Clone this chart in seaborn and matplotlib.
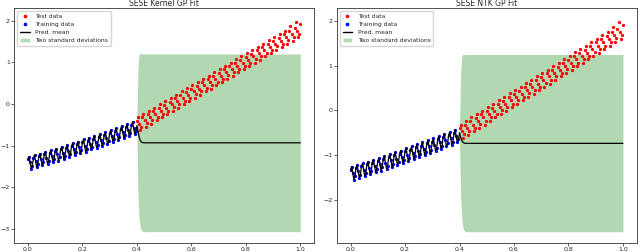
import numpy as np
import matplotlib
matplotlib.use("Agg")
import matplotlib.pyplot as plt
import seaborn as sns
from matplotlib.lines import Line2D
from matplotlib.patches import Patch

# Training data (x from 0 to 0.396, step 0.004)
train_x = np.linspace(0.0, 0.396, 100)
train_y = [
    -1.33, -1.26, -1.40, -1.55, -1.48,  -1.29, -1.22, -1.37, -1.52, -1.44,
    -1.25, -1.19, -1.33, -1.47, -1.40,  -1.21, -1.15, -1.30, -1.43, -1.36,
    -1.17, -1.11, -1.25, -1.39, -1.32,  -1.13, -1.07, -1.21, -1.36, -1.28,
    -1.09, -1.02, -1.17, -1.31, -1.24,  -1.05, -0.98, -1.12, -1.27, -1.20,
    -1.01, -0.94, -1.08, -1.22, -1.15,  -0.97, -0.90, -1.04, -1.18, -1.11,
    -0.92, -0.85, -1.00, -1.14, -1.07,  -0.88, -0.81, -0.95, -1.09, -1.02,
    -0.83, -0.76, -0.91, -1.05, -0.98,  -0.79, -0.72, -0.86, -1.00, -0.93,
    -0.74, -0.67, -0.81, -0.96, -0.89,  -0.70, -0.63, -0.77, -0.91, -0.84,
    -0.65, -0.58, -0.72, -0.86, -0.79,  -0.60, -0.53, -0.67, -0.81, -0.74,
    -0.56, -0.49, -0.63, -0.77, -0.70,  -0.51, -0.43, -0.58, -0.72, -0.65,
]

# Test data (x from 0.4 to 1.0, step 0.004)
test_x = np.linspace(0.4, 1.0, 151)
test_y = [
    -0.40, -0.32, -0.47, -0.62, -0.54,  -0.32, -0.24, -0.39, -0.55, -0.46,
    -0.25, -0.16, -0.32, -0.47, -0.39,  -0.17, -0.09, -0.24, -0.39, -0.31,
    -0.09, -0.01, -0.16, -0.32, -0.23,  -0.02, 0.07, -0.09, -0.24, -0.16,
    0.06, 0.15, -0.01, -0.16, -0.08,  0.14, 0.22, 0.07, -0.09, 0.00,
    0.21, 0.30, 0.14, -0.01, 0.07,  0.29, 0.38, 0.22, 0.07, 0.15,
    0.37, 0.45, 0.30, 0.14, 0.23,  0.44, 0.53, 0.37, 0.22, 0.30,
    0.52, 0.61, 0.45, 0.30, 0.38,  0.60, 0.68, 0.53, 0.37, 0.46,
    0.67, 0.76, 0.60, 0.45, 0.53,  0.75, 0.84, 0.68, 0.53, 0.61,
    0.83, 0.91, 0.76, 0.60, 0.69,  0.90, 0.99, 0.83, 0.68, 0.76,
    0.98, 1.07, 0.91, 0.76, 0.84,  1.06, 1.14, 0.99, 0.83, 0.92,
    1.13, 1.22, 1.06, 0.91, 0.99,  1.21, 1.30, 1.14, 0.99, 1.07,
    1.29, 1.37, 1.22, 1.06, 1.15,  1.36, 1.45, 1.29, 1.14, 1.22,
    1.44, 1.53, 1.37, 1.22, 1.30,  1.52, 1.60, 1.45, 1.29, 1.38,
    1.59, 1.68, 1.52, 1.37, 1.45,  1.67, 1.76, 1.60, 1.45, 1.53,
    1.75, 1.87, 1.68, 1.52, 1.61,  1.82, 1.97, 1.76, 1.60, 1.68,
    1.92,
]

# Prediction beyond the training range
pred_x = [0.396, 0.400, 0.404, 0.408, 0.412, 0.416, 0.420, 0.430, 1.0]

kernel_mean = [-0.65, -0.52, -0.65, -0.785, -0.865, -0.905, -0.925, -0.93, -0.93]
kernel_upper = [-0.65, -0.30, 0.90, 1.18, 1.22, 1.21, 1.20, 1.20, 1.20]
kernel_lower = [-0.65, -0.75, -2.20, -2.75, -2.95, -3.02, -3.05, -3.06, -3.06]

ntk_mean = [-0.65, -0.50, -0.60, -0.67, -0.71, -0.73, -0.74, -0.74, -0.74]
ntk_upper = [-0.65, -0.35, 0.80, 1.20, 1.26, 1.25, 1.25, 1.25, 1.25]
ntk_lower = [-0.65, -0.70, -1.90, -2.40, -2.60, -2.68, -2.71, -2.72, -2.72]

sns.set_style("ticks")
plt.rcParams['font.family'] = ['DejaVu Sans']

fig, axes = plt.subplots(1, 2, figsize=(6.4, 2.52), dpi=100)
fig.subplots_adjust(left=0.022, right=0.995, bottom=0.036, top=0.968, wspace=0.075)

panels = [
    (axes[0], "SESE Kernel GP Fit", kernel_mean, kernel_upper, kernel_lower, (-3.33, 2.3)),
    (axes[1], "SESE NTK GP Fit", ntk_mean, ntk_upper, ntk_lower, (-2.97, 2.29)),
]

for ax, title, mean, upper, lower, ylim in panels:
    ax.fill_between(pred_x, lower, upper, color="green", alpha=0.3, linewidth=0, zorder=1)
    sns.scatterplot(x=test_x, y=test_y, color="red", s=5.5, linewidth=0, ax=ax, zorder=2)
    sns.scatterplot(x=train_x, y=train_y, color="blue", s=5.5, linewidth=0, ax=ax, zorder=2)
    line_x = np.concatenate([train_x, pred_x[1:]])
    line_y = np.concatenate([train_y, mean[1:]])
    ax.plot(line_x, line_y, color="black", lw=0.9, zorder=3)

    ax.set_xlim(-0.051, 1.051)
    ax.set_ylim(*ylim)
    ax.set_xticks([0.0, 0.2, 0.4, 0.6, 0.8, 1.0])
    ax.set_title(title, fontsize=5.5, pad=0.8)
    ax.tick_params(labelsize=4.5, length=2, width=0.5, pad=1)
    for sp in ax.spines.values():
        sp.set_linewidth(0.6)
        sp.set_color("#333333")

    handles = [
        Line2D([], [], marker="o", color="red", ls="none", markersize=1.6),
        Line2D([], [], marker="o", color="blue", ls="none", markersize=1.6),
        Line2D([], [], color="black", lw=1),
        Patch(facecolor="green", alpha=0.3),
    ]
    labels = ["Test data", "Training data", "Pred. mean", "Two standard deviations"]
    ax.legend(handles, labels, loc="upper left", fontsize=4.3, frameon=True,
              handlelength=1.6, borderpad=0.5, labelspacing=0.45, handletextpad=0.9)

plt.savefig("out.png", dpi=100)
